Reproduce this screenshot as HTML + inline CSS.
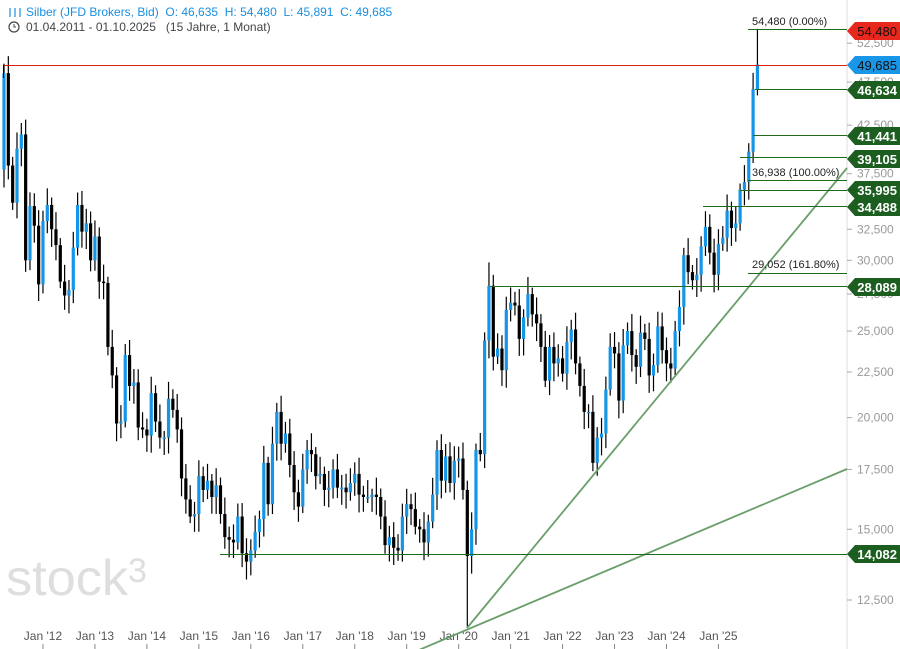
<!DOCTYPE html>
<html><head><meta charset="utf-8"><style>
body{margin:0;background:#fff;width:900px;height:649px;overflow:hidden;font-family:"Liberation Sans",sans-serif}
svg{position:absolute;left:0;top:0}
</style></head><body>
<svg id="s" width="900" height="649" xmlns="http://www.w3.org/2000/svg" font-family="Liberation Sans, sans-serif">
<text x="6" y="595" font-size="50" fill="#dedede" textLength="122" lengthAdjust="spacingAndGlyphs">stock</text>
<text x="128" y="582" font-size="34" fill="#dedede">3</text>
<line x1="847" y1="0" x2="847" y2="649" stroke="#ddd"/>
<g id="grid"></g>
<g id="c"></g>
<g id="ov"></g>
<text x="26" y="16" font-size="12" fill="#1a8fe0" style="white-space:pre" xml:space="preserve">Silber (JFD Brokers, Bid)  O: 46,635  H: 54,480  L: 45,891  C: 49,685</text>
<g stroke="#1a8fe0" stroke-width="1.2"><line x1="10" y1="8" x2="10" y2="17"/><line x1="15" y1="8" x2="15" y2="17"/><line x1="20" y1="8" x2="20" y2="17"/></g>
<circle cx="14" cy="27" r="5" fill="none" stroke="#444" stroke-width="1.2"/><path d="M14 24v3h2" stroke="#444" fill="none"/>
<text x="26" y="31" font-size="12" fill="#444" style="white-space:pre" xml:space="preserve">01.04.2011 - 01.10.2025   (15 Jahre, 1 Monat)</text>
</svg>
<script>
const NS="http://www.w3.org/2000/svg";
function el(p,t,a,txt){const e=document.createElementNS(NS,t);for(const k in a)e.setAttribute(k,a[k]);if(txt!=null)e.textContent=txt;p.appendChild(e);return e;}
const Y=v=>600-388*Math.log(v/12.5);
const X=i=>4+i*4.33;
const g=document.getElementById('grid'),c=document.getElementById('c'),ov=document.getElementById('ov');
[12.5,15,17.5,20,22.5,25,27.5,30,32.5,37.5,42.5,47.5,52.5].forEach(v=>{const y=Y(v);
el(g,'line',{x1:847,x2:852,y1:y,y2:y,stroke:'#aaa'});
el(g,'text',{x:857,y:y+4,'font-size':12,fill:'#999'},v.toFixed(3).replace('.',','));});
for(let yr=12;yr<=25;yr++){const x=X(9+(yr-12)*12);
el(g,'line',{x1:x,x2:x,y1:644,y2:649,stroke:'#888'});
el(g,'text',{x:x,y:640,'font-size':12,fill:'#555','text-anchor':'middle'},"Jan '"+yr);}
const C=[48.6,38.3,34.8,40.0,41.5,30.0,34.5,32.8,28.2,
33.2,34.6,32.5,31.2,28.4,27.4,27.8,31.0,34.6,32.3,33.0,30.0,
31.9,28.4,28.3,24.0,22.3,19.7,19.8,23.5,21.7,21.9,19.5,19.4,
19.1,21.3,19.8,19.0,19.0,21.0,20.4,19.4,17.1,16.2,15.5,15.6,
17.2,16.6,17.0,16.3,16.8,15.6,14.7,14.6,14.5,15.5,14.1,13.8,
14.2,14.9,15.4,17.8,16.0,18.7,20.3,18.7,19.2,17.7,16.5,15.9,
17.5,18.4,18.2,17.2,17.3,16.6,16.7,17.5,16.7,16.7,16.5,16.9,
17.3,16.4,16.3,16.3,16.4,16.3,15.5,14.4,14.7,14.3,14.2,15.5,
16.0,15.8,15.1,15.0,14.5,15.3,16.4,18.4,17.0,18.1,16.9,17.9,
18.0,16.6,14.0,15.0,18.4,18.2,24.4,28.1,23.4,23.9,22.6,26.4,
26.9,26.7,24.5,25.9,27.5,26.1,25.5,24.0,22.0,24.0,23.0,23.3,
22.4,24.3,25.1,23.0,21.7,20.3,20.3,17.8,19.0,19.2,21.5,24.0,
23.6,20.9,24.1,25.0,23.5,22.8,24.9,24.5,22.3,22.9,25.3,23.8,
23.0,22.7,25.0,26.6,30.4,29.1,28.5,28.9,31.1,32.7,30.6,28.9,
31.3,31.8,34.1,32.6,33.0,36.0,36.7,39.7,46.634,49.685];
let prev=37.9;
C.forEach((cl,i)=>{const o=prev;prev=cl;
const r1=0.015+0.03*Math.abs(Math.sin(i*1.7)),r2=0.015+0.03*Math.abs(Math.cos(i*2.3));
let h=Math.max(o,cl)*(1+r1),l=Math.min(o,cl)*(1-r2);
if(i==0)h=49.8; if(i==107)l=11.64; if(i==112)h=29.84; if(i==174){h=54.48;l=45.89;}
const x=X(i),up=cl>=o,col=up?'#1595e8':'#000';
el(c,'line',{x1:x,x2:x,y1:Y(h),y2:Y(l),stroke:'#000','stroke-width':1.2});
const y1=Y(Math.max(o,cl)),y2=Y(Math.min(o,cl));
el(c,'rect',{x:x-1.6,y:y1,width:3.2,height:Math.max(1.5,y2-y1),fill:col});});
el(ov,'line',{x1:467,y1:628,x2:847,y2:168,stroke:'#6a9e6a','stroke-width':1.8});
el(ov,'line',{x1:400,y1:658,x2:847,y2:469,stroke:'#6a9e6a','stroke-width':1.8});
const H=[[54.48,748],[46.634,755],[41.441,753],[39.105,740],[36.938,748],[35.995,740],[34.488,703],[29.052,748],[28.089,490],[14.082,220]];
H.forEach(([v,x0])=>{const y=Math.round(Y(v))+.5;el(ov,'line',{x1:x0,x2:847,y1:y,y2:y,stroke:'#1e6b1e','stroke-width':1});});
el(ov,'line',{x1:3,x2:847,y1:65.5,y2:65.5,stroke:'#e02010','stroke-width':1});
el(ov,'line',{x1:3.5,x2:3.5,y1:65,y2:78,stroke:'#000'});
el(ov,'text',{x:752,y:25,'font-size':11,fill:'#222'},'54,480 (0.00%)');
el(ov,'text',{x:752,y:176,'font-size':11,fill:'#222'},'36,938 (100.00%)');
el(ov,'text',{x:752,y:268,'font-size':11,fill:'#222'},'29,052 (161.80%)');
function lab(v,fill,tc,bold,y){
el(ov,'path',{d:`M847 ${y} L855 ${y-9} H900 V${y+9} H855 Z`,fill:fill});
el(ov,'text',{x:897,y:y+5,'font-size':13,fill:tc,'font-weight':bold?'bold':'normal','text-anchor':'end'},v.toFixed(3).replace('.',','));}
lab(54.48,'#e8281c','#111',false,31);
lab(49.685,'#1a96e8','#111',false,65);
lab(46.634,'#1b5e20','#fff',true,90);
lab(41.441,'#1b5e20','#fff',true,136);
lab(39.105,'#1b5e20','#fff',true,159);
lab(35.995,'#1b5e20','#fff',true,190);
lab(34.488,'#1b5e20','#fff',true,207);
lab(28.089,'#1b5e20','#fff',true,287);
lab(14.082,'#1b5e20','#fff',true,554);
</script>
</body></html>
